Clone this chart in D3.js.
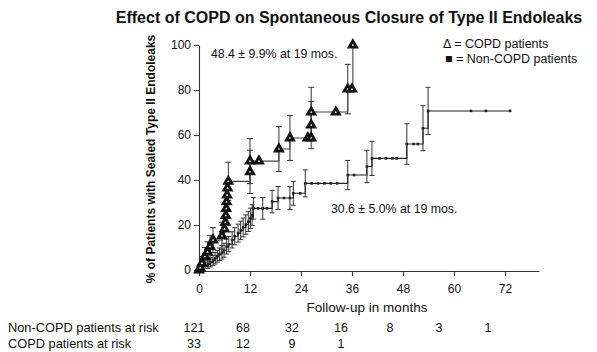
<!DOCTYPE html>
<html>
<head>
<meta charset="utf-8">
<script src="https://cdnjs.cloudflare.com/ajax/libs/d3/7.8.5/d3.min.js"></script>
<style>
body { margin: 0; background: #fff; }
svg text { font-family: "Liberation Sans", Arial, Helvetica, sans-serif; fill: #111; }
</style>
</head>
<body>
<script>
// values (months, % sealed, +/- error)
var xTicks = [0, 12, 24, 36, 48, 60, 72];
var yTicks = [0, 20, 40, 60, 80, 100];

var ncTime = [0, 0.4, 0.9, 1.4, 2.1, 2.7, 3.3, 3.8, 4.3, 4.8,
	5.4, 5.9, 6.5, 7.0, 7.8, 8.4, 9.2, 9.8, 10.4, 11.0,
	11.6, 12.1, 12.5, 12.8, 13.9, 15.0, 16.0, 17.2, 18.6, 20.0,
	21.4, 22.2, 23.8, 25.0, 26.5, 28.0, 29.5, 31.0, 32.5, 35.0,
	36.5, 39.5, 40.7, 42.5, 44.0, 45.5, 46.5, 48.9, 50.5, 51.5,
	52.7, 53.9, 64.0, 67.5, 73.2];
var ncPct = [0, 0.8, 1.7, 1.7, 2.5, 3.4, 4.3, 5.2, 6.1, 7.0,
	7.9, 8.8, 10.4, 11.5, 13.4, 15.0, 16.4, 17.6, 18.9, 20.2,
	21.5, 23.0, 24.4, 27.4, 27.4, 27.4, 27.4, 30.4, 32.0, 32.0,
	32.0, 34.1, 34.1, 38.5, 38.5, 38.5, 38.5, 38.5, 38.5, 42.2,
	42.2, 46.0, 49.6, 49.6, 49.6, 49.6, 49.6, 56.0, 56.0, 56.0,
	63.0, 70.7, 70.7, 70.7, 70.7];
var ncErr = [0, 0, 1.2, 0, 1.8, 2.0, 2.2, 2.5, 2.6, 2.8,
	3.0, 3.1, 3.3, 3.4, 3.6, 3.8, 4.0, 4.1, 4.2, 4.3,
	4.4, 4.5, 4.6, 4.8, 0, 4.8, 0, 5.0, 5.1, 0,
	5.1, 5.3, 0, 6.0, 0, 0, 0, 0, 0, 6.5,
	0, 7.2, 7.6, 0, 0, 0, 0, 9.0, 0, 0,
	10.0, 10.5, 0, 0, 0];

var copdTime = [0, 0.3, 0.7, 1.4, 2.0, 2.6, 3.3, 5.4, 6.0, 6.2,
	6.3, 6.4, 6.5, 6.6, 6.7, 6.9, 12.0, 12.0, 14.1, 18.8,
	21.4, 25.6, 26.4, 26.4, 26.4, 32.2, 35.0, 36.0, 36.2];
var copdPct = [0, 1.0, 3.0, 6.0, 8.0, 10.4, 13.3, 15.2, 18.2, 21.2,
	24.2, 27.3, 30.3, 33.3, 36.4, 39.4, 43.6, 48.4, 48.4, 53.8,
	58.7, 58.7, 58.7, 64.4, 70.2, 70.2, 80.4, 80.4, 100];
var copdErr = [0, 1.5, 3.0, 4.0, 4.5, 5.0, 5.5, 6.0, 0, 0,
	0, 0, 0, 0, 0, 8.5, 9.6, 10.0, 0, 10.0,
	10.0, 0, 0, 10.5, 11.0, 0, 11.0, 0, 0];

var riskLabels = ["Non-COPD patients at risk", "COPD patients at risk"];
var ncRisk = [121, 68, 32, 16, 8, 3, 1];
var copdRisk = [33, 12, 9, 1];

var width = 597;
var height = 352;

var svg = d3.select("body")
	.append("svg")
	.attr("width", width)
	.attr("height", height);

var x = d3.scaleLinear().domain([0, 80]).range([199, 539]);
var y = d3.scaleLinear().domain([0, 100]).range([270, 45]);
// the at-risk numbers sit a bit tighter than the axis ticks
var riskX = d3.scaleLinear().domain([0, 72]).range([194, 488]);

// axes
var xAxis = svg.append("g")
	.attr("transform", "translate(0,271)")
	.call(d3.axisBottom(x).tickValues(xTicks).tickSize(5).tickSizeOuter(0).tickPadding(8));
var yAxis = svg.append("g")
	.attr("transform", "translate(199,0)")
	.call(d3.axisLeft(y).tickValues(yTicks).tickSize(5).tickSizeOuter(0).tickPadding(3));
[xAxis, yAxis].forEach(function(a){
	a.selectAll("path, line").attr("stroke", "#333").attr("stroke-width", 1.1);
	a.selectAll("text").style("font-size", "12px").style("fill", "#111");
});

function series(t, p, e){
	return t.map(function(d, i){ return {t: d, p: p[i], e: e[i]}; });
}
var nc = series(ncTime, ncPct, ncErr);
var copd = series(copdTime, copdPct, copdErr);

var stepLine = d3.line()
	.curve(d3.curveStepAfter)
	.x(function(d){ return x(d.t); })
	.y(function(d){ return y(d.p); });

function errorBars(data, cap, color){
	var g = svg.append("g").attr("stroke", color).attr("stroke-width", 1);
	var bars = data.filter(function(d){ return d.e > 0; });
	g.selectAll(".v").data(bars).enter().append("line")
		.attr("x1", function(d){ return x(d.t); })
		.attr("x2", function(d){ return x(d.t); })
		.attr("y1", function(d){ return y(d.p - d.e); })
		.attr("y2", function(d){ return y(d.p + d.e); });
	[-1, 1].forEach(function(s){
		g.selectAll(".c" + s).data(bars).enter().append("line")
			.attr("x1", function(d){ return x(d.t) - cap; })
			.attr("x2", function(d){ return x(d.t) + cap; })
			.attr("y1", function(d){ return y(d.p + s * d.e); })
			.attr("y2", function(d){ return y(d.p + s * d.e); });
	});
}

// non-COPD curve
errorBars(nc, 2.5, "#333");
svg.append("path")
	.datum(nc)
	.attr("d", stepLine)
	.attr("fill", "none")
	.attr("stroke", "#222")
	.attr("stroke-width", 1.1);
svg.selectAll(".sq")
	.data(nc)
	.enter()
	.append("rect")
	.attr("x", function(d){ return x(d.t) - 1.3; })
	.attr("y", function(d){ return y(d.p) - 1.3; })
	.attr("width", 2.6)
	.attr("height", 2.6)
	.attr("fill", "#222");

// COPD curve
errorBars(copd, 3, "#333");
svg.append("path")
	.datum(copd)
	.attr("d", stepLine)
	.attr("fill", "none")
	.attr("stroke", "#444")
	.attr("stroke-width", 1.1);
svg.selectAll(".tri")
	.data(copd)
	.enter()
	.append("path")
	.attr("d", d3.symbol(d3.symbolTriangle, 22))
	.attr("transform", function(d){ return "translate(" + x(d.t) + "," + y(d.p) + ")"; })
	.attr("fill", "#fff")
	.attr("stroke", "#111")
	.attr("stroke-width", 2.8)
	.attr("stroke-linejoin", "miter");

// titles and labels
svg.append("text")
	.attr("x", 349).attr("y", 23)
	.attr("text-anchor", "middle")
	.style("font-size", "16px")
	.style("font-weight", "bold")
	.text("Effect of COPD on Spontaneous Closure of Type II Endoleaks");

svg.append("text")
	.attr("transform", "translate(155,159) rotate(-90)")
	.attr("text-anchor", "middle")
	.style("font-size", "12px")
	.style("font-weight", "bold")
	.text("% of Patients with Sealed Type II Endoleaks");

svg.append("text")
	.attr("x", 367).attr("y", 312)
	.attr("text-anchor", "middle")
	.style("font-size", "13.5px")
	.text("Follow-up in months");

svg.append("text")
	.attr("x", 211).attr("y", 58)
	.style("font-size", "12.3px")
	.text("48.4 \u00b1 9.9% at 19 mos.");
svg.append("text")
	.attr("x", 331).attr("y", 213)
	.style("font-size", "12.3px")
	.text("30.6 \u00b1 5.0% at 19 mos.");

// legend
svg.append("text")
	.attr("x", 443).attr("y", 48)
	.style("font-size", "12.5px")
	.text("\u0394 = COPD patients");
svg.append("text")
	.attr("x", 445).attr("y", 63)
	.style("font-size", "12.5px")
	.text("\u25a0 = Non-COPD patients");

// patients at risk table
var rowY = [332, 348];
[ncRisk, copdRisk].forEach(function(vals, r){
	svg.append("text")
		.attr("x", 8).attr("y", rowY[r])
		.style("font-size", "12.8px")
		.text(riskLabels[r]);
	svg.selectAll(".risk" + r)
		.data(vals)
		.enter()
		.append("text")
		.attr("x", function(d, i){ return riskX(xTicks[i]); })
		.attr("y", rowY[r])
		.attr("text-anchor", "middle")
		.style("font-size", "12.5px")
		.text(function(d){ return d; });
});
</script>
</body>
</html>
